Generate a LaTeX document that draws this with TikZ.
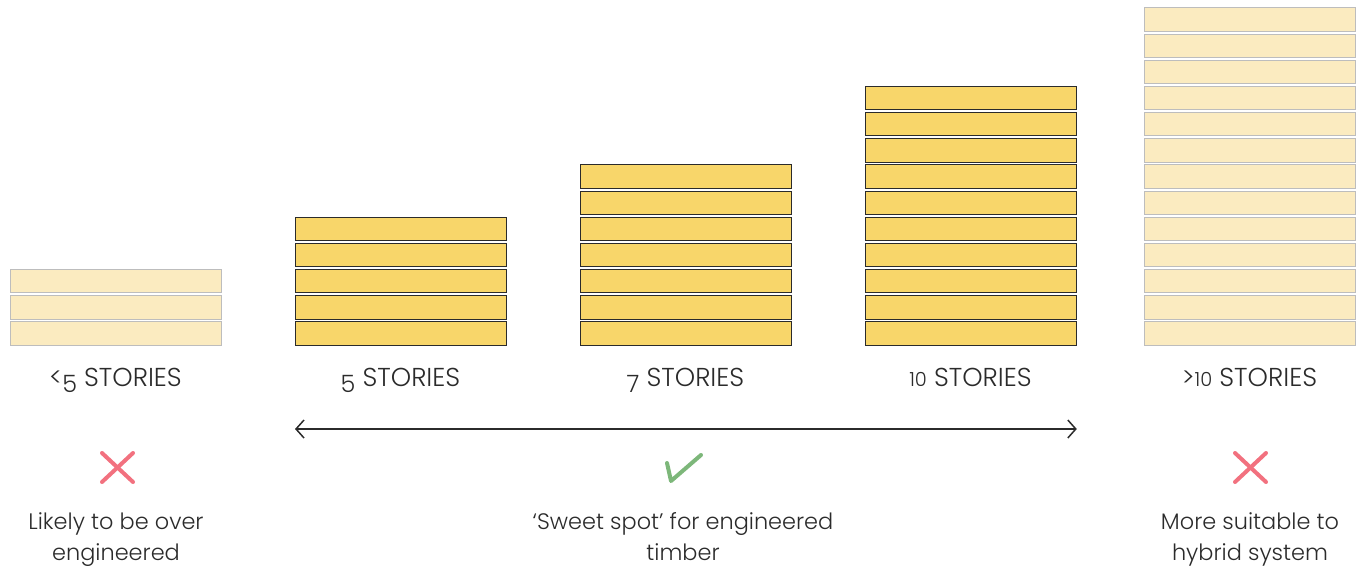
\documentclass[tikz,border=0pt]{standalone}
\usepackage{fontspec}
\setmainfont{Poppins}[UprightFont=* Light,Numbers=OldStyle]
\usetikzlibrary{arrows.meta,positioning}
\definecolor{timber}{HTML}{F8D66A}
\definecolor{paletimber}{HTML}{FBEBC0}
\definecolor{edgegray}{HTML}{BDBDBD}
\definecolor{inkdark}{HTML}{2B2B2B}
\definecolor{nored}{HTML}{F2717F}
\definecolor{okgreen}{HTML}{7DB77A}
% figures that hang below the line, and small ones at x-height
\newcommand{\lownum}[1]{\raisebox{-0.24em}{\fontsize{24}{24}\selectfont #1}}
\newcommand{\xnum}[1]{{\fontsize{19.5}{19.5}\selectfont #1}}
\tikzset{
  floor/.style={
    rectangle,
    draw=inkdark,
    line width=0.8bp,
    fill=timber,
    minimum width=211bp,
    minimum height=23.4bp,
    inner sep=0pt
  },
  palefloor/.style={
    floor,
    draw=edgegray,
    fill=paletimber
  },
  storylabel/.style={
    anchor=base,
    text=inkdark,
    font=\fontsize{26}{30}\selectfont
  },
  verdict/.style={
    align=center,
    text=inkdark,
    font=\fontsize{22.5}{31}\selectfont
  },
  span/.style={{Straight Barb[length=8bp,width=18bp]}-{Straight Barb[length=8bp,width=18bp]},line width=1.5bp,draw=inkdark},
  nomark/.style={line width=4bp,line cap=round,draw=nored},
  okmark/.style={line width=4bp,line cap=round,line join=round,draw=okgreen}
}

\begin{document}
\begin{tikzpicture}[x=1bp,y=-1bp]
    \useasboundingbox (0,0) rectangle (1365,573);

    % floor stacks, bottom floor is number 1
    \foreach \name/\x/\n/\sty/\lab in {a/10/3/palefloor/{<\lownum{5} STORIES},
                                       b/295/5/floor/{\lownum{5} STORIES},
                                       c/580/7/floor/{\lownum{7} STORIES},
                                       d/865/10/floor/{\xnum{10} STORIES},
                                       e/1144/13/palefloor/{>\xnum{10} STORIES}}{
      \foreach \i in {1,...,\n}
        \node[\sty,anchor=south west] (\name\i) at (\x,{345.5-(\i-1)*26.15}) {};
      \node[storylabel] (\name lab) at ({\x+105.5},386) {\lab};
    }

    \coordinate (spanL) at ([yshift=-83.5bp]b1.south west);
    \coordinate (spanR) at ([yshift=-83.5bp]d1.south east);
    \draw[span] (spanL) -- (spanR);

    \draw[nomark] (102,453) -- (133,482) (102,482) -- (133,453);
    \draw[okmark] (667,463) -- (671,481) -- (701,455);
    \draw[nomark] (1235,453) -- (1266,482) (1235,482) -- (1266,453);

    \node[verdict] (lowtxt) at (116,539) {Likely to be over\strut\\engineered\strut};
    \node[verdict] (midtxt) at (683,539) {‘Sweet spot’ for engineered\strut\\timber\strut};
    \node[verdict] (hightxt) at (1250,539) {More suitable to\strut\\hybrid system\strut};
  \end{tikzpicture}
\end{document}
